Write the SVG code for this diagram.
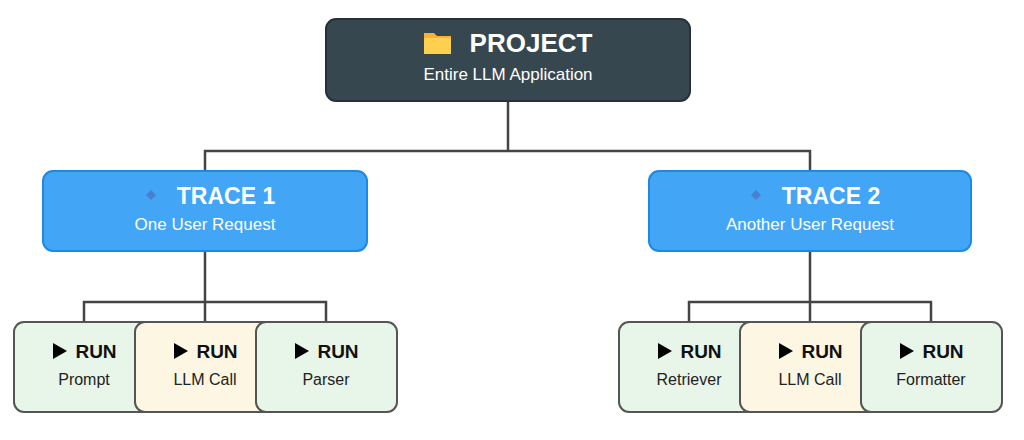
<svg xmlns="http://www.w3.org/2000/svg" width="1024" height="440" viewBox="0 0 1024 440">
<style>
text{font-family:"Liberation Sans",Arial,sans-serif;text-anchor:middle}
.t{font-weight:bold;fill:#fff}
.s{fill:#fff;font-size:17px}
.trace{fill:#42a5f5;stroke:#1e88e5;stroke-width:2}
.run{stroke:#555;stroke-width:2}
.g{fill:#e8f5e9}.y{fill:#fdf6e3}
.rt{font-weight:bold;font-size:19px;fill:#111}
.rs{font-size:16px;fill:#222}
.c{fill:none;stroke:#444;stroke-width:2.5}
</style>
<rect width="1024" height="440" fill="#fff"/>
<g id="connectors">
<path class="c" d="M508 101V151M205 171V151H810V171"/>
<path class="c" d="M205 251V302M84 322V302H326V322M205 302V322"/>
<path class="c" d="M810 251V302M689 322V302H931V322M810 302V322"/>
</g>
<g id="project">
<rect x="326" y="19" width="364" height="82" rx="10" fill="#37474f" stroke="#263238" stroke-width="2"/>
<path d="M424 33h10l3 3h14v18h-27z" fill="#f9b233"/>
<rect x="424" y="38" width="27" height="16" rx="1.5" fill="#fdd04f"/>
<text class="t" x="531" y="52" font-size="26">PROJECT</text>
<text class="s" x="508" y="80">Entire LLM Application</text>
</g>
<g id="trace1">
<rect class="trace" x="43" y="171" width="324" height="80" rx="10"/>
<path d="M151 190l5 5-5 5-5-5z" fill="#4a7fd0"/>
<text class="t" x="226" y="204" font-size="23">TRACE 1</text>
<text class="s" x="205" y="230">One User Request</text>
</g>
<g id="trace2">
<rect class="trace" x="649" y="171" width="322" height="80" rx="10"/>
<path d="M756 190l5 5-5 5-5-5z" fill="#4a7fd0"/>
<text class="t" x="831" y="204" font-size="23">TRACE 2</text>
<text class="s" x="810" y="230">Another User Request</text>
</g>
<g id="run-prompt"><rect class="run g" x="14" y="322" width="141" height="90" rx="10"/><path d="M53 343l14 8-14 8z"/><text class="rt" x="96" y="358">RUN</text><text class="rs" x="84" y="385">Prompt</text></g>
<g id="run-llm1"><rect class="run y" x="135" y="322" width="141" height="90" rx="10"/><path d="M174 343l14 8-14 8z"/><text class="rt" x="217" y="358">RUN</text><text class="rs" x="205" y="385">LLM Call</text></g>
<g id="run-parser"><rect class="run g" x="256" y="322" width="141" height="90" rx="10"/><path d="M295 343l14 8-14 8z"/><text class="rt" x="338" y="358">RUN</text><text class="rs" x="326" y="385">Parser</text></g>
<g id="run-retriever"><rect class="run g" x="619" y="322" width="141" height="90" rx="10"/><path d="M658 343l14 8-14 8z"/><text class="rt" x="701" y="358">RUN</text><text class="rs" x="689" y="385">Retriever</text></g>
<g id="run-llm2"><rect class="run y" x="740" y="322" width="141" height="90" rx="10"/><path d="M779 343l14 8-14 8z"/><text class="rt" x="822" y="358">RUN</text><text class="rs" x="810" y="385">LLM Call</text></g>
<g id="run-formatter"><rect class="run g" x="861" y="322" width="141" height="90" rx="10"/><path d="M900 343l14 8-14 8z"/><text class="rt" x="943" y="358">RUN</text><text class="rs" x="931" y="385">Formatter</text></g>
</svg>
